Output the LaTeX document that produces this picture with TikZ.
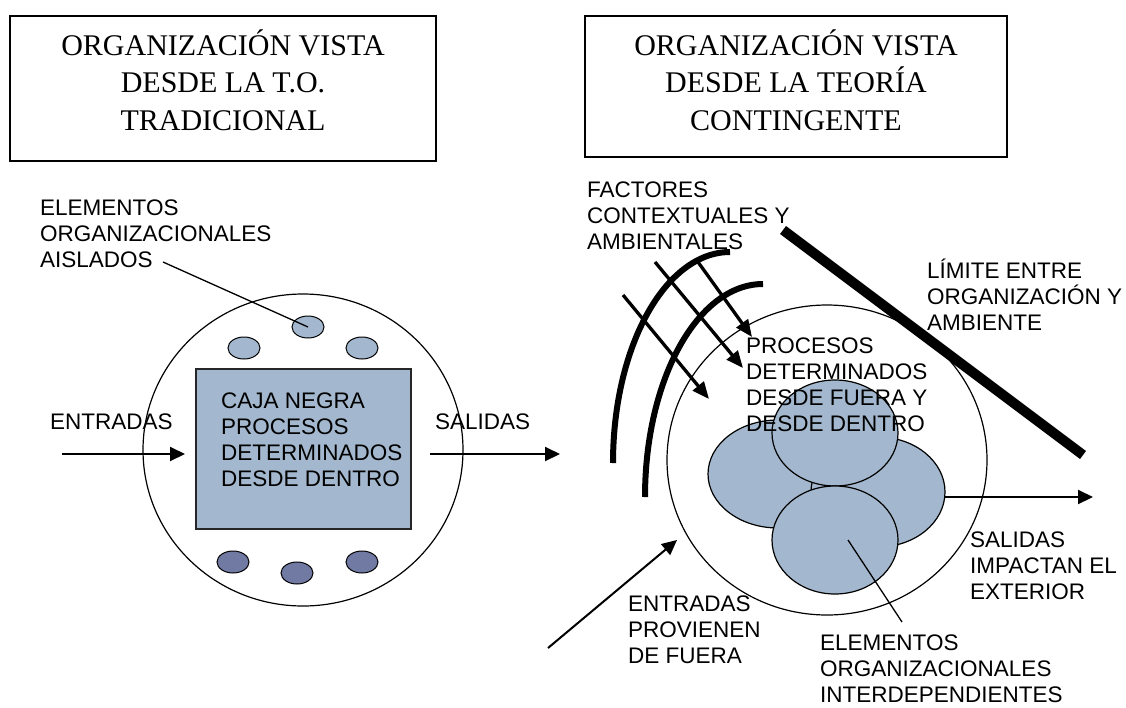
\documentclass[tikz,border=0pt]{standalone}
\usepackage{fontspec}
\setmainfont{Liberation Serif}
\setsansfont{Liberation Sans}
\usetikzlibrary{arrows.meta,shapes.geometric}
\definecolor{azulclaro}{RGB}{163,184,206}
\definecolor{azuloscuro}{RGB}{112,122,163}
\newcommand{\alto}{\rule{0pt}{1.07em}}
\begin{document}
\begin{tikzpicture}[x=1pt,y=-1pt,
    titulo/.style={draw,line width=1.8pt,inner sep=0pt},
    titulotexto/.style={anchor=north,inner sep=0pt,align=center,font=\fontsize{30}{37.5}\selectfont},
    etiqueta/.style={anchor=north west,inner sep=0pt,align=left,font=\sffamily\fontsize{22.5}{26}\selectfont},
    orbita/.style={ellipse,draw,line width=1.2pt,inner sep=0pt},
    elem/.style={ellipse,draw,line width=1pt,inner sep=0pt,minimum width=32pt,minimum height=22pt},
    bloque/.style={ellipse,draw,line width=1.2pt,fill=azulclaro,inner sep=0pt},
    flecha/.style={-{Triangle[length=15pt,width=14pt]},line width=2pt},
    flechagruesa/.style={-{Triangle[length=17pt,width=14pt]},line width=3.3pt},
    arco/.style={line width=6pt},
    guia/.style={line width=1.3pt}]
  \useasboundingbox (0,0) rectangle (1126,707);

  \node [titulo,minimum width=426pt,minimum height=145pt] (cajatrad) at (223,88.5) {};
  \node [titulotexto] (tittrad) at (223,22.9) {\alto ORGANIZACIÓN VISTA\\DESDE LA T.O.\\TRADICIONAL};
  \node [titulo,minimum width=422pt,minimum height=141pt] (cajacont) at (796,86.5) {};
  \node [titulotexto] (titcont) at (796,22.9) {\alto ORGANIZACIÓN VISTA\\DESDE LA TEORÍA\\CONTINGENTE};

  \node [orbita,minimum width=320pt,minimum height=312pt] (orgtrad) at (303,450) {};
  \node [draw=black!85,line width=1.5pt,fill=azulclaro,inner sep=0pt,
         minimum width=215pt,minimum height=160pt] (cajanegra) at (303.5,449) {};
  \node [etiqueta] (cajatexto) at (221,384) {\alto CAJA NEGRA\\PROCESOS\\DETERMINADOS\\DESDE DENTRO};
  \foreach \x/\y [count=\i] in {244/348,308/327,362/348}
    \node [elem,fill=azulclaro] (sup\i) at (\x,\y) {};
  \foreach \x/\y [count=\i] in {233/562,297/573,362/562}
    \node [elem,fill=azuloscuro] (inf\i) at (\x,\y) {};

  \node [etiqueta] (aislados) at (40,191) {\alto ELEMENTOS\\ORGANIZACIONALES\\AISLADOS};
  \node [etiqueta] (entradas) at (50,405) {\alto ENTRADAS};
  \node [etiqueta] (salidas) at (435,405) {\alto SALIDAS};
  \coordinate (aisladosfin) at (163,262);
  \draw [guia] (aisladosfin) -- (sup2.center);
  \coordinate (entini) at (62,454);
  \coordinate (entfin) at (185,454);
  \draw [flecha] (entini) -- (entfin);
  \coordinate (salini) at (430,454);
  \coordinate (salfin) at (560,454);
  \draw [flecha] (salini) -- (salfin);

  \node [orbita,minimum width=320pt,minimum height=310pt] (orgcont) at (827,460) {};
  \node [bloque,minimum width=140pt,minimum height=108pt] (izq) at (778,474) {};
  \node [bloque,minimum width=134pt,minimum height=110pt] (der) at (878,492) {};
  \node [bloque,minimum width=126pt,minimum height=106pt] (arriba) at (835,433) {};
  \node [bloque,minimum width=126pt,minimum height=108pt] (abajo) at (835,540) {};

  \node [etiqueta] (factores) at (587,173) {\alto FACTORES\\CONTEXTUALES Y\\AMBIENTALES};
  \node [etiqueta] (limite) at (927,254) {\alto LÍMITE ENTRE\\ORGANIZACIÓN Y\\AMBIENTE};
  \node [etiqueta] (procesos) at (746,329) {\alto PROCESOS\\DETERMINADOS\\DESDE FUERA Y\\DESDE DENTRO};
  \node [etiqueta] (salidasext) at (970,523) {\alto SALIDAS\\IMPACTAN EL\\EXTERIOR};
  \node [etiqueta] (entradasfuera) at (628,587) {\alto ENTRADAS\\PROVIENEN\\DE FUERA};
  \node [etiqueta] (interdep) at (820,626) {\alto ELEMENTOS\\ORGANIZACIONALES\\INTERDEPENDIENTES};

  \draw [arco] (730,252) arc [start angle=-90,end angle=-180,x radius=117,y radius=211];
  \draw [arco] (763,284) arc [start angle=-90,end angle=-180,x radius=118,y radius=213];
  \draw [flechagruesa] (698,262) -- (752,337);
  \draw [flechagruesa] (655,262) -- (743,368);
  \draw [flechagruesa] (623,295) -- (709,399);
  \draw [line width=10pt] (783,230) -- (1083,455);

  \coordinate (entafuera) at (548,648);
  \coordinate (entadentro) at (677,540);
  \draw [flecha] (entafuera) -- (entadentro);
  \coordinate (salder) at (945,497);
  \coordinate (salafuera) at (1093,497);
  \draw [flecha] (salder) -- (salafuera);
  \coordinate (interdepini) at (848,540);
  \coordinate (interdepfin) at (902,622);
  \draw [guia] (interdepini) -- (interdepfin);
\end{tikzpicture}
\end{document}
